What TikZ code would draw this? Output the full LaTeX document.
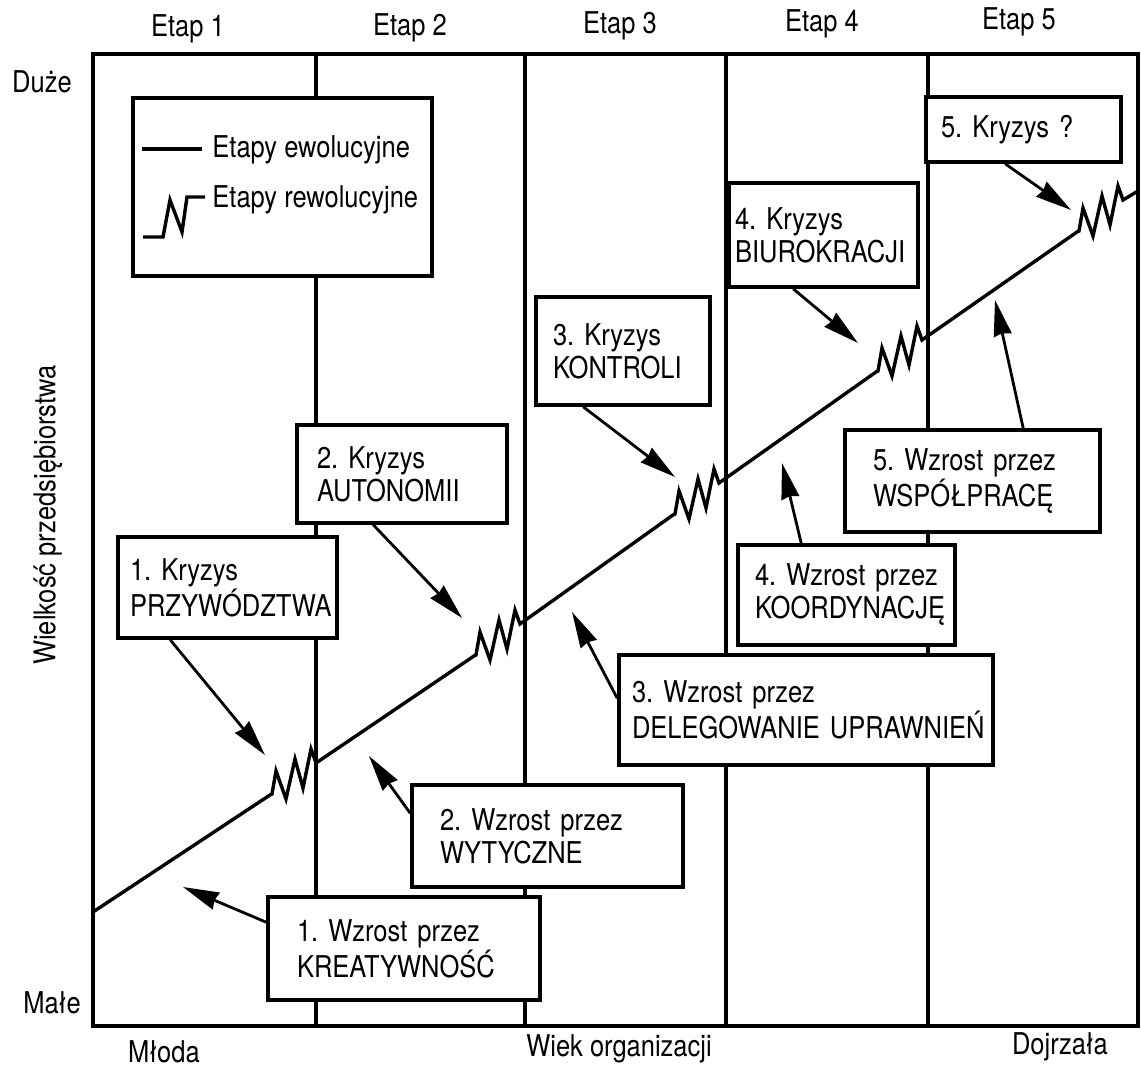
\documentclass[tikz,border=0pt]{standalone}
\usepackage{fontspec}
\setmainfont{TeX Gyre Heros}[FakeStretch=0.85]
\usetikzlibrary{arrows.meta,calc}

\tikzset{
  box/.style={draw,line width=1.8pt,fill=white,align=left,inner ysep=0pt},
  opis/.style={inner sep=1pt},
  ramka/.style={line width=2pt},
  trend/.style={line width=1.7pt},
  strz/.style={line width=1.4pt,-{Stealth[length=18pt,width=9pt,inset=1pt]}},
  rewol/.style={insert path={-- ++(2,-1) -- ++(4,-23) -- ++(10,28) -- ++(9,-40) -- ++(8,29) -- ++(8,-39) -- ++(5,14)}},
}

\begin{document}
\begin{tikzpicture}[x=0.5pt,y=-0.5pt,font=\fontsize{15}{16.5}\selectfont\frenchspacing]
\useasboundingbox (0,0) rectangle (1141,1068);
% ramka i granice etapow
\draw[ramka] (93,54) rectangle (1138,1026);
\foreach \x in {316,525,726,928}
  \draw[ramka] (\x,54) -- (\x,1026);
% linia rozwoju
\draw[trend] (93,912) -- (270,795) [rewol] -- (474,656) [rewol] -- (673,515) [rewol]
  -- (876,372) [rewol] -- (1077,232) [rewol] -- (1138,191);
% opisy osi
\node[opis] (e1) at (188,29) {Etap 1};
\node[opis] (e2) at (410,28) {Etap 2};
\node[opis] (e3) at (620,26) {Etap 3};
\node[opis] (e4) at (822,24) {Etap 4};
\node[opis] (e5) at (1019,22) {Etap 5};
\node[opis] (duze) at (42,82) {Duże};
\node[opis] (male) at (52,1003) {Małe};
\node[opis] (mloda) at (164,1052) {Młoda};
\node[opis] (wiek) at (619,1049) {Wiek organizacji};
\node[opis] (dojrz) at (1060,1047) {Dojrzała};
\node[opis,rotate=90] (wielk) at (48,515) {Wielkość przedsiębiorstwa};
% legenda
\node[box,minimum width=149.5pt,minimum height=89pt] (leg) at (282.5,187) {};
\draw[trend] (142,149) -- (202,149);
\draw[trend] (143,237) -- (163,237) -- (170,200) -- (182,232) -- (187,197) -- (205,197);
\node[anchor=west,inner sep=0pt] (ewol) at (212,150) {Etapy ewolucyjne};
\node[anchor=west,inner sep=0pt] (rewol) at (212,200) {Etapy rewolucyjne};
% kryzysy
\node[box,minimum height=32.5pt,text width=82.5pt,inner xsep=7.5pt] (k5) at (1023.5,129.5) {5. Kryzys ?};
\node[box,minimum height=52pt,text width=88.5pt,inner xsep=3pt] (k4) at (823.5,235) {4. Kryzys\\BIUROKRACJI};
\node[box,minimum height=54pt,text width=70pt,inner xsep=8.5pt] (k3) at (623,351) {3. Kryzys\\KONTROLI};
\node[box,minimum height=49pt,text width=85pt,inner xsep=10pt] (k2) at (402,474) {2. Kryzys\\AUTONOMII};
\node[box,minimum height=50.5pt,text width=97.5pt,inner xsep=6pt] (k1) at (227.5,587.5) {1. Kryzys\\PRZYWÓDZTWA};
% wzrost
\node[box,minimum height=51.5pt,text width=107pt,inner xsep=14.5pt] (w1) at (404,948.5) {1. Wzrost przez\\KREATYWNOŚĆ};
\node[box,minimum height=51pt,text width=107.5pt,inner xsep=14pt] (w2) at (547.5,836) {2. Wzrost przez\\WYTYCZNE};
\node[box,minimum height=55pt,text width=174pt,inner xsep=6.5pt] (w3) at (806,710) {3. Wzrost przez\\\mbox{DELEGOWANIE UPRAWNIEŃ}};
\node[box,minimum height=50pt,text width=91.5pt,inner xsep=8.5pt] (w4) at (846.5,595) {4. Wzrost przez\\KOORDYNACJĘ};
\node[box,minimum height=51pt,text width=99.5pt,inner xsep=14pt] (w5) at (972.5,481) {5. Wzrost przez\\WSPÓŁPRACĘ};
% groty strzalek
\coordinate (k1s) at (265,755);
\coordinate (k2s) at (462,618);
\coordinate (k3s) at (675,477);
\coordinate (k4s) at (858,343);
\coordinate (k5s) at (1071,210);
\coordinate (w1s) at (183,887);
\coordinate (w2s) at (369,756);
\coordinate (w3s) at (572,612);
\coordinate (w4s) at (782,463);
\coordinate (w5s) at (995,300);
% strzalki
\draw[strz] ($(k1.south west)+(54,0)$) -- (k1s);
\draw[strz] ($(k2.south west)+(78,0)$) -- (k2s);
\draw[strz] ($(k3.south west)+(49,0)$) -- (k3s);
\draw[strz] ($(k4.south west)+(66,0)$) -- (k4s);
\draw[strz] ($(k5.south west)+(81,0)$) -- (k5s);
\draw[strz] ($(w1.north west)+(0,27)$) -- (w1s);
\draw[strz] ($(w2.north west)+(0,30)$) -- (w2s);
\draw[strz] ($(w3.north west)+(0,45)$) -- (w3s);
\draw[strz] ($(w4.north west)+(65,0)$) -- (w4s);
\draw[strz] ($(w5.north west)+(180,0)$) -- (w5s);
\end{tikzpicture}
\end{document}
